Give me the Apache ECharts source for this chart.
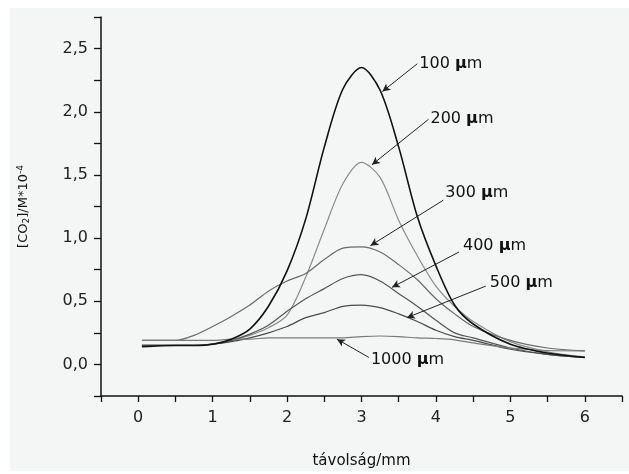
<!DOCTYPE html>
<html>
<head>
<meta charset="utf-8">
<script src="https://cdn.jsdelivr.net/npm/echarts@6/dist/echarts.min.js"></script>
<style>
  html, body { margin: 0; padding: 0; background: #fff; }
  #chart { width: 629px; height: 474px; }
</style>
</head>
<body>
<div id="chart"></div>
<script>
// távolság (mm)
const distance = [0.05, 0.5, 0.75, 1.0, 1.25, 1.5, 1.75, 2.0, 2.25, 2.5, 2.75, 3.0, 3.25, 3.5, 3.75, 4.0, 4.25, 4.5, 5.0, 5.5, 6.0]

// [CO2] görbék, tűátmérő szerint
const co2_100 = [0.14, 0.15, 0.15, 0.16, 0.20, 0.28, 0.46, 0.74, 1.15, 1.72, 2.18, 2.35, 2.17, 1.72, 1.17, 0.78, 0.47, 0.32, 0.16, 0.09, 0.055]
const co2_200 = [0.15, 0.15, 0.15, 0.16, 0.19, 0.23, 0.29, 0.39, 0.69, 1.07, 1.43, 1.60, 1.48, 1.14, 0.86, 0.62, 0.46, 0.34, 0.18, 0.10, 0.06]
const co2_300 = [0.19, 0.19, 0.23, 0.30, 0.38, 0.47, 0.58, 0.66, 0.72, 0.83, 0.92, 0.93, 0.89, 0.79, 0.67, 0.52, 0.40, 0.30, 0.19, 0.13, 0.107]
const co2_400 = [0.15, 0.15, 0.15, 0.16, 0.19, 0.24, 0.31, 0.42, 0.52, 0.60, 0.68, 0.71, 0.66, 0.56, 0.46, 0.35, 0.25, 0.21, 0.13, 0.08, 0.055]
const co2_500 = [0.15, 0.15, 0.15, 0.16, 0.18, 0.21, 0.25, 0.30, 0.37, 0.41, 0.46, 0.47, 0.45, 0.40, 0.34, 0.27, 0.22, 0.19, 0.12, 0.08, 0.055]
const co2_1000 = [0.19, 0.19, 0.19, 0.19, 0.20, 0.20, 0.21, 0.21, 0.21, 0.21, 0.21, 0.22, 0.225, 0.22, 0.21, 0.205, 0.195, 0.17, 0.13, 0.11, 0.107]

const seriesNames = ['100', '200', '300', '400', '500', '1000']
const seriesValues = [co2_100, co2_200, co2_300, co2_400, co2_500, co2_1000]

// felirat + nyíl: honnan (felirat) -> hova (görbe)
const arrowFrom = [[3.75, 2.38], [3.90, 1.94], [4.10, 1.30], [4.31, 0.89], [4.67, 0.62], [3.10, 0.055]]
const arrowTo = [[3.28, 2.16], [3.14, 1.58], [3.12, 0.94], [3.41, 0.61], [3.61, 0.37], [2.67, 0.20]]
const labelShift = [[0, 0], [0, 0], [0, -7], [2, -6], [2, -3], [0, 2]]

const lineColors = ['#111111', '#8a8a8a', '#6a6a6a', '#555555', '#4a4a4a', '#7a7a7a']
const lineWidths = [1.6, 1.2, 1.2, 1.2, 1.2, 1.2]

const FONT = 'DejaVu Sans'

const chart = echarts.init(document.getElementById('chart'))

const series = seriesNames.map((name, i) => ({
    name: name + ' µm',
    type: 'line',
    smooth: 0.3,
    showSymbol: false,
    data: distance.map((x, k) => [x, seriesValues[i][k]]),
    lineStyle: { color: lineColors[i], width: lineWidths[i] },
    z: i === 0 ? 5 : 3,
    markLine: {
        silent: true,
        symbol: ['none', 'arrow'],
        symbolSize: [6, 8],
        lineStyle: { color: '#222', width: 1, type: 'solid' },
        label: { show: false },
        data: [[{ coord: arrowFrom[i] }, { coord: arrowTo[i] }]],
    },
    markPoint: {
        silent: true,
        symbol: 'circle',
        symbolSize: 0,
        data: [{ coord: arrowFrom[i] }],
        label: {
            show: true,
            position: 'right',
            distance: 2,
            offset: labelShift[i],
            formatter: name + ' {u|µ}m',
            color: '#111',
            fontFamily: FONT,
            fontSize: 16,
            rich: {
                u: { fontFamily: FONT, fontSize: 16, fontWeight: 'bold', color: '#111' },
            },
        },
    },
}))

chart.setOption({
    animation: false,
    backgroundColor: '#ffffff',
    graphic: [
        {
            type: 'rect',
            z: -10,
            shape: { x: 10, y: 8, width: 619, height: 463 },
            style: { fill: '#f4f6f6' },
        },
    ],
    grid: { left: 101, top: 17, right: 7, bottom: 76 },
    xAxis: {
        type: 'value',
        min: -0.5,
        max: 6.5,
        interval: 0.5,
        name: 'távolság/mm',
        nameLocation: 'middle',
        nameGap: 58,
        nameTextStyle: { fontFamily: FONT, fontSize: 15, color: '#111' },
        axisLine: { onZero: false, lineStyle: { color: '#111', width: 1.5 } },
        axisTick: { inside: false, length: 6, lineStyle: { color: '#111', width: 1.3 } },
        axisLabel: {
            margin: 14,
            fontFamily: FONT,
            fontSize: 16,
            color: '#222',
            formatter: (v) => (Number.isInteger(v) && v >= 0 && v <= 6 ? String(v) : ''),
        },
        splitLine: { show: false },
    },
    yAxis: {
        type: 'value',
        min: -0.25,
        max: 2.75,
        interval: 0.25,
        name: '[CO{s|2}]/M*10{p|-4}',
        nameLocation: 'middle',
        nameGap: 70,
        nameRotate: 90,
        nameTextStyle: {
            fontFamily: FONT,
            fontSize: 13,
            color: '#111',
            rich: {
                s: { fontFamily: FONT, fontSize: 9, color: '#111', verticalAlign: 'bottom', padding: [6, 0, 0, 0] },
                p: { fontFamily: FONT, fontSize: 9, color: '#111', verticalAlign: 'top', padding: [0, 0, 6, 0] },
            },
        },
        axisLine: { show: true, onZero: false, lineStyle: { color: '#111', width: 1.5 } },
        axisTick: { show: true, inside: false, length: 7, lineStyle: { color: '#111', width: 1.3 } },
        axisLabel: {
            margin: 13,
            fontFamily: FONT,
            fontSize: 16,
            color: '#222',
            formatter: (v) => {
                const half = Math.round(v * 2)
                if (Math.abs(v * 2 - half) > 1e-6 || v < 0) return ''
                return (half / 2).toFixed(1).replace('.', ',')
            },
        },
        splitLine: { show: false },
    },
    series: series,
})
</script>
</body>
</html>
